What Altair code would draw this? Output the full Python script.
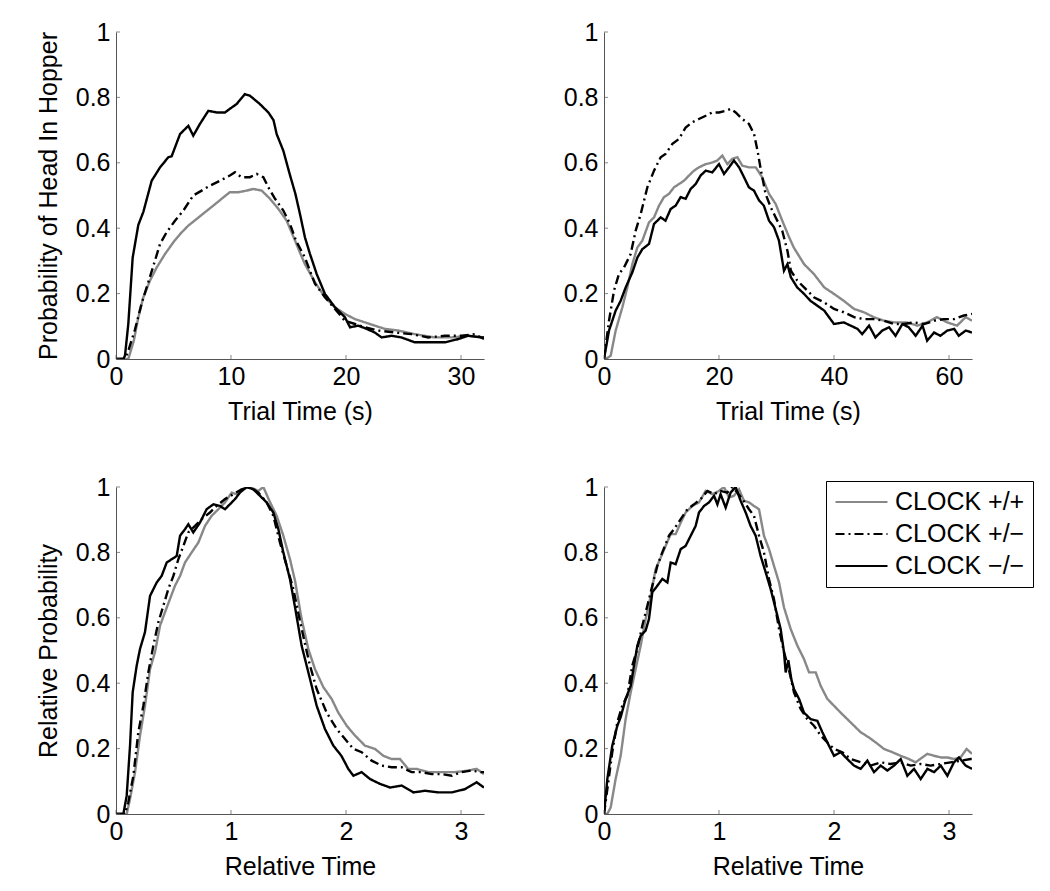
import altair as alt
import pandas as pd

FONT = "Liberation Sans"
AXIS_COLOR = "#555555"

GENOTYPES = ["CLOCK +/+", "CLOCK +/\u2212", "CLOCK \u2212/\u2212"]
LINE_COLORS = ["#888888", "#000000", "#000000"]
LINE_DASHES = [[1, 0], [9, 4, 2, 4], [1, 0]]

Y_TICKS = [0, 0.2, 0.4, 0.6, 0.8, 1]

# ---------------- Panel A: Trial time, short schedule ----------------
A_X_TICKS = [0, 10, 20, 30]
A_WT_X = [0, 1.07, 1.55, 1.94, 2.38, 2.96, 3.54, 4.26, 4.99, 5.57, 6.29, 7.01, 7.74, 8.46, 9.19, 9.9,
          10.64, 11.36, 11.94, 12.67, 13.39, 14.12, 14.84, 15.57, 16.0, 16.43, 17.3, 18.17, 19.04, 19.9,
          20.78, 21.65, 22.5, 23.39, 24.55, 25.99, 27.7, 29.2, 30.6, 32]
A_WT_Y = [0, 0, 0.056, 0.127, 0.189, 0.24, 0.28, 0.321, 0.357, 0.382, 0.408, 0.428, 0.449, 0.469, 0.49, 0.51,
          0.51, 0.515, 0.52, 0.515, 0.49, 0.459, 0.423, 0.362, 0.325, 0.29, 0.235, 0.189, 0.158, 0.138,
          0.122, 0.112, 0.102, 0.092, 0.087, 0.076, 0.066, 0.066, 0.071, 0.066]
A_HET_X = [0, 0.8, 1.07, 1.65, 2.23, 2.81, 3.39, 3.83, 4.41, 5.13, 5.86, 6.72, 7.45, 8.17, 9.04, 9.9,
           10.35, 10.9, 11.65, 12.23, 12.81, 13.25, 13.83, 14.55, 15.13, 15.65, 16.43, 17.3, 18.17, 19.04,
           19.9, 20.78, 21.65, 22.8, 24.26, 25.7, 27.16, 28.6, 30.06, 31.2, 32]
A_HET_Y = [0, 0, 0.025, 0.09, 0.17, 0.235, 0.301, 0.352, 0.388, 0.423, 0.454, 0.5, 0.515, 0.53, 0.545, 0.561,
           0.571, 0.556, 0.556, 0.566, 0.556, 0.525, 0.49, 0.454, 0.413, 0.362, 0.31, 0.23, 0.189, 0.153,
           0.117, 0.107, 0.097, 0.087, 0.081, 0.076, 0.066, 0.071, 0.071, 0.076, 0.061]
A_MUT_X = [0, 0.64, 0.78, 1.07, 1.45, 1.94, 2.38, 3.1, 3.83, 4.55, 4.84, 5.57, 6.29, 6.72, 7.3, 8.03, 8.75,
           9.48, 9.9, 10.5, 11.2, 11.65, 12.5, 13.25, 13.7, 13.97, 14.55, 15.1, 15.6, 16.0, 16.43, 16.87,
           17.45, 18.17, 19.04, 19.9, 20.35, 21.07, 21.8, 22.5, 23.1, 23.97, 24.8, 25.99, 27.16, 28.6, 29.77,
           30.6, 31.8, 32]
A_MUT_Y = [0, 0, 0.01, 0.107, 0.31, 0.41, 0.45, 0.545, 0.586, 0.617, 0.62, 0.688, 0.713, 0.683, 0.719, 0.759,
           0.754, 0.754, 0.765, 0.78, 0.81, 0.805, 0.78, 0.754, 0.73, 0.688, 0.637, 0.566, 0.505, 0.443, 0.372,
           0.321, 0.26, 0.199, 0.158, 0.128, 0.097, 0.102, 0.092, 0.081, 0.066, 0.071, 0.066, 0.051, 0.051,
           0.051, 0.061, 0.071, 0.066, 0.066]

# ---------------- Panel B: Trial time, long schedule ----------------
B_X_TICKS = [0, 20, 40, 60]
B_WT_X = [0, 0.29, 1.16, 2.03, 3.19, 4.06, 4.93, 5.8, 6.67, 7.83, 8.7, 9.57, 10.43, 11.3, 12.17, 13.04, 13.9,
          14.78, 15.65, 16.5, 17.7, 18.84, 19.7, 20.58, 21.45, 22.3, 23.2, 24.06, 25.2, 26.4, 27.5, 28.7,
          29.86, 31.0, 32.2, 33.0, 34.8, 36.5, 38.3, 40.0, 41.7, 43.5, 45.2, 46.9, 48.7, 50.4, 52.7, 54.5,
          56.2, 57.9, 59.7, 61.4, 62.9, 64]
B_WT_Y = [0, 0, 0.01, 0.087, 0.158, 0.219, 0.29, 0.341, 0.362, 0.418, 0.433, 0.469, 0.495, 0.505, 0.525, 0.535,
          0.545, 0.561, 0.576, 0.586, 0.596, 0.601, 0.607, 0.622, 0.596, 0.612, 0.617, 0.591, 0.586, 0.586,
          0.556, 0.505, 0.474, 0.423, 0.372, 0.341, 0.29, 0.26, 0.219, 0.199, 0.178, 0.153, 0.143, 0.128,
          0.117, 0.112, 0.112, 0.102, 0.112, 0.128, 0.112, 0.102, 0.128, 0.117]
B_HET_X = [0, 0.87, 1.74, 2.6, 3.48, 4.64, 5.5, 6.38, 7.54, 8.7, 9.86, 10.7, 11.9, 13.04, 14.2, 15.36, 16.5,
           17.7, 18.84, 20.0, 21.16, 22.0, 22.9, 24.06, 25.2, 26.1, 26.7, 27.3, 28.1, 29.0, 29.86, 31.0, 31.9,
           32.5, 33.6, 34.8, 36.5, 38.3, 40.0, 41.7, 43.5, 45.2, 46.9, 48.7, 50.4, 52.2, 53.9, 55.7, 57.4,
           59.1, 60.9, 62.6, 64]
B_HET_Y = [0, 0.117, 0.209, 0.26, 0.28, 0.321, 0.392, 0.443, 0.525, 0.576, 0.617, 0.627, 0.658, 0.673, 0.708,
           0.724, 0.734, 0.744, 0.754, 0.754, 0.759, 0.765, 0.754, 0.734, 0.719, 0.688, 0.637, 0.576, 0.505,
           0.464, 0.433, 0.392, 0.331, 0.27, 0.24, 0.219, 0.189, 0.173, 0.153, 0.143, 0.128, 0.122, 0.122,
           0.117, 0.107, 0.107, 0.112, 0.107, 0.117, 0.122, 0.122, 0.133, 0.138]
B_MUT_X = [0, 0.87, 2.03, 2.9, 3.77, 4.93, 5.8, 6.67, 7.83, 8.7, 9.86, 10.7, 11.6, 12.46, 13.33, 14.2, 15.07,
           15.94, 16.8, 17.7, 18.84, 20.0, 20.87, 21.74, 22.6, 23.5, 24.35, 25.2, 26.08, 26.96, 27.8, 28.7,
           29.57, 30.43, 31.3, 31.9, 32.5, 33.6, 34.8, 35.9, 37.1, 38.3, 40.0, 41.7, 42.9, 44.1, 44.9, 46.1,
           47.2, 48.4, 49.57, 50.7, 51.9, 53.0, 54.2, 55.4, 56.2, 57.4, 58.5, 59.7, 60.9, 61.7, 62.9, 64]
B_MUT_Y = [0, 0.087, 0.148, 0.178, 0.219, 0.265, 0.31, 0.336, 0.352, 0.413, 0.433, 0.423, 0.459, 0.469, 0.495,
           0.49, 0.52, 0.535, 0.561, 0.576, 0.571, 0.596, 0.566, 0.586, 0.607, 0.586, 0.556, 0.525, 0.515,
           0.485, 0.469, 0.423, 0.403, 0.362, 0.27, 0.29, 0.25, 0.219, 0.199, 0.178, 0.163, 0.148, 0.107,
           0.112, 0.102, 0.092, 0.076, 0.102, 0.066, 0.087, 0.097, 0.071, 0.107, 0.097, 0.071, 0.102, 0.056,
           0.081, 0.071, 0.087, 0.092, 0.071, 0.087, 0.081]

# ---------------- Panel C: Relative time, short schedule ----------------
C_X_TICKS = [0, 1, 2, 3]
C_WT_X = [0, 0.093, 0.122, 0.165, 0.209, 0.252, 0.296, 0.339, 0.383, 0.426, 0.47, 0.513, 0.557, 0.6, 0.658,
          0.716, 0.774, 0.832, 0.89, 0.948, 1.006, 1.049, 1.093, 1.165, 1.238, 1.281, 1.34, 1.397, 1.455,
          1.513, 1.557, 1.614, 1.672, 1.73, 1.803, 1.875, 1.933, 2.006, 2.078, 2.165, 2.252, 2.325, 2.397,
          2.47, 2.54, 2.614, 2.716, 2.832, 2.948, 3.064, 3.136, 3.2]
C_WT_Y = [0, 0, 0.046, 0.127, 0.24, 0.331, 0.443, 0.495, 0.576, 0.617, 0.658, 0.698, 0.728, 0.769, 0.8, 0.83,
          0.881, 0.912, 0.932, 0.953, 0.983, 0.978, 0.993, 1.0, 0.988, 1.0, 0.953, 0.912, 0.851, 0.779, 0.713,
          0.596, 0.505, 0.443, 0.388, 0.352, 0.31, 0.27, 0.24, 0.209, 0.199, 0.178, 0.168, 0.168, 0.138,
          0.138, 0.128, 0.128, 0.128, 0.133, 0.138, 0.122]
C_HET_X = [0, 0.078, 0.107, 0.151, 0.194, 0.238, 0.281, 0.325, 0.368, 0.412, 0.455, 0.499, 0.542, 0.586,
           0.629, 0.687, 0.745, 0.817, 0.875, 0.948, 1.02, 1.093, 1.165, 1.238, 1.31, 1.368, 1.426, 1.484,
           1.542, 1.6, 1.65, 1.687, 1.745, 1.832, 1.919, 1.99, 2.064, 2.136, 2.223, 2.31, 2.397, 2.484, 2.57,
           2.658, 2.745, 2.832, 2.92, 3.006, 3.09, 3.17, 3.2]
C_HET_Y = [0, 0, 0.036, 0.117, 0.25, 0.331, 0.433, 0.515, 0.586, 0.637, 0.688, 0.728, 0.779, 0.82, 0.861,
           0.881, 0.902, 0.922, 0.942, 0.963, 0.978, 0.993, 1.0, 0.983, 0.953, 0.912, 0.83, 0.759, 0.688, 0.59,
           0.51, 0.454, 0.382, 0.31, 0.26, 0.23, 0.199, 0.189, 0.163, 0.148, 0.143, 0.143, 0.128, 0.128, 0.122,
           0.122, 0.117, 0.128, 0.133, 0.128, 0.128]
C_MUT_X = [0, 0.064, 0.093, 0.122, 0.145, 0.18, 0.209, 0.252, 0.296, 0.354, 0.397, 0.441, 0.484, 0.528, 0.557,
           0.6, 0.629, 0.672, 0.73, 0.788, 0.846, 0.904, 0.948, 0.99, 1.035, 1.078, 1.136, 1.194, 1.252, 1.31,
           1.368, 1.412, 1.455, 1.513, 1.557, 1.614, 1.687, 1.745, 1.817, 1.89, 1.96, 2.02, 2.064, 2.136, 2.209,
           2.296, 2.383, 2.484, 2.586, 2.687, 2.8, 2.92, 3.035, 3.136, 3.2]
C_MUT_Y = [0, 0, 0.056, 0.209, 0.372, 0.454, 0.505, 0.556, 0.667, 0.708, 0.728, 0.769, 0.779, 0.789, 0.851,
           0.871, 0.886, 0.861, 0.891, 0.932, 0.947, 0.942, 0.932, 0.947, 0.963, 0.983, 1.0, 0.993, 0.973,
           0.953, 0.922, 0.871, 0.8, 0.718, 0.632, 0.515, 0.413, 0.331, 0.26, 0.209, 0.178, 0.138, 0.117, 0.128,
           0.107, 0.092, 0.081, 0.087, 0.066, 0.071, 0.066, 0.066, 0.076, 0.097, 0.081]

# ---------------- Panel D: Relative time, long schedule ----------------
D_X_TICKS = [0, 1, 2, 3]
D_WT_X = [0, 0.029, 0.058, 0.101, 0.145, 0.188, 0.232, 0.275, 0.319, 0.362, 0.406, 0.449, 0.493, 0.536, 0.58,
          0.623, 0.667, 0.71, 0.768, 0.826, 0.884, 0.942, 1.0, 1.043, 1.087, 1.13, 1.174, 1.217, 1.261, 1.304,
          1.348, 1.391, 1.435, 1.478, 1.522, 1.565, 1.623, 1.681, 1.739, 1.783, 1.841, 1.884, 1.942, 2.0,
          2.058, 2.116, 2.174, 2.232, 2.304, 2.362, 2.435, 2.507, 2.58, 2.652, 2.71, 2.768, 2.812, 2.87, 2.928,
          2.986, 3.043, 3.101, 3.153, 3.2]
D_WT_Y = [0, 0, 0.02, 0.107, 0.178, 0.29, 0.372, 0.443, 0.515, 0.596, 0.667, 0.749, 0.784, 0.82, 0.856, 0.856,
          0.891, 0.922, 0.942, 0.953, 0.988, 0.978, 0.988, 1.0, 0.968, 0.973, 0.993, 0.958, 0.953, 0.942, 0.932,
          0.851, 0.81, 0.759, 0.708, 0.632, 0.566, 0.515, 0.474, 0.433, 0.433, 0.392, 0.352, 0.331, 0.31, 0.29,
          0.27, 0.25, 0.234, 0.219, 0.199, 0.189, 0.178, 0.168, 0.158, 0.173, 0.184, 0.178, 0.173, 0.173,
          0.168, 0.173, 0.199, 0.184]
D_HET_X = [0, 0.029, 0.072, 0.116, 0.159, 0.203, 0.246, 0.29, 0.333, 0.377, 0.42, 0.464, 0.507, 0.565, 0.609,
           0.667, 0.725, 0.783, 0.841, 0.899, 0.957, 1.014, 1.072, 1.116, 1.159, 1.203, 1.261, 1.304, 1.348,
           1.391, 1.435, 1.478, 1.522, 1.565, 1.609, 1.652, 1.71, 1.768, 1.826, 1.884, 1.942, 2.0, 2.072, 2.145,
           2.232, 2.319, 2.406, 2.493, 2.58, 2.667, 2.754, 2.841, 2.928, 3.014, 3.101, 3.188, 3.2]
D_HET_Y = [0, 0.076, 0.189, 0.281, 0.331, 0.362, 0.454, 0.505, 0.576, 0.637, 0.698, 0.759, 0.8, 0.851, 0.871,
           0.902, 0.932, 0.947, 0.963, 0.988, 0.978, 0.988, 0.983, 1.0, 0.983, 0.963, 0.932, 0.912, 0.851, 0.8,
           0.718, 0.657, 0.566, 0.495, 0.44, 0.372, 0.321, 0.29, 0.27, 0.24, 0.219, 0.199, 0.189, 0.168, 0.158,
           0.148, 0.158, 0.153, 0.158, 0.148, 0.153, 0.148, 0.153, 0.158, 0.163, 0.168, 0.168]
D_MUT_X = [0, 0.029, 0.072, 0.116, 0.145, 0.188, 0.232, 0.261, 0.29, 0.319, 0.362, 0.391, 0.42, 0.464, 0.507,
           0.551, 0.58, 0.623, 0.667, 0.71, 0.754, 0.797, 0.826, 0.87, 0.913, 0.957, 0.986, 1.014, 1.058, 1.101,
           1.145, 1.188, 1.232, 1.275, 1.319, 1.362, 1.406, 1.449, 1.493, 1.536, 1.565, 1.58, 1.603, 1.63, 1.652,
           1.696, 1.739, 1.797, 1.855, 1.899, 1.942, 2.0, 2.058, 2.116, 2.174, 2.232, 2.29, 2.348, 2.406, 2.464,
           2.522, 2.58, 2.638, 2.696, 2.754, 2.812, 2.87, 2.928, 2.986, 3.043, 3.087, 3.145, 3.2]
D_MUT_Y = [0, 0.107, 0.209, 0.27, 0.296, 0.352, 0.392, 0.454, 0.515, 0.545, 0.561, 0.596, 0.678, 0.698, 0.719,
           0.708, 0.769, 0.764, 0.81, 0.82, 0.851, 0.881, 0.922, 0.942, 0.953, 0.973, 0.947, 0.978, 0.937, 0.983,
           1.0, 0.958, 0.922, 0.881, 0.851, 0.789, 0.739, 0.688, 0.627, 0.566, 0.495, 0.433, 0.47, 0.41, 0.382,
           0.352, 0.31, 0.29, 0.285, 0.25, 0.219, 0.178, 0.189, 0.168, 0.148, 0.138, 0.163, 0.128, 0.148, 0.133,
           0.148, 0.168, 0.117, 0.138, 0.107, 0.138, 0.128, 0.148, 0.117, 0.158, 0.173, 0.148, 0.138]

TITLE_A_Y = "Probability of Head In Hopper"
TITLE_C_Y = "Relative Probability"
TITLE_TOP_X = "Trial Time (s)"
TITLE_BOTTOM_X = "Relative Time"

PANEL_W = 368
PANEL_H = 327
FS = 25


def make_df(series):
    rows = []
    for g, xs, ys in series:
        for i, (x, y) in enumerate(zip(xs, ys)):
            rows.append({"genotype": g, "x": x, "y": y, "idx": i})
    return pd.DataFrame(rows)


def panel(series, xmax, xticks, xtitle, ytitle, show_legend, xtitle_pad):
    df = make_df(series)
    xscale = alt.Scale(domain=[0, xmax], nice=False, zero=False)
    yscale = alt.Scale(domain=[0, 1], nice=False)
    xaxis = alt.Axis(values=xticks, title=xtitle, titlePadding=xtitle_pad)
    if ytitle:
        yaxis = alt.Axis(values=Y_TICKS, title=ytitle, format="~g")
    else:
        yaxis = alt.Axis(values=Y_TICKS, title=None, format="~g")
    if show_legend:
        leg = alt.Legend(
            orient="none", legendX=222, legendY=-6, title=None,
            symbolType="stroke", symbolSize=2704, symbolStrokeWidth=2.2,
            labelFont=FONT, labelFontSize=FS, labelColor="#000000", labelOffset=6,
            clipHeight=26, rowPadding=6, padding=8,
            strokeColor="#000000", fillColor="#ffffff", cornerRadius=0,
        )
        color = alt.Color("genotype:N", scale=alt.Scale(domain=GENOTYPES, range=LINE_COLORS), legend=leg)
        dash = alt.StrokeDash("genotype:N", scale=alt.Scale(domain=GENOTYPES, range=LINE_DASHES), legend=leg)
    else:
        color = alt.Color("genotype:N", scale=alt.Scale(domain=GENOTYPES, range=LINE_COLORS), legend=None)
        dash = alt.StrokeDash("genotype:N", scale=alt.Scale(domain=GENOTYPES, range=LINE_DASHES), legend=None)

    xenc = alt.X("x:Q", scale=xscale, axis=xaxis)
    yenc = alt.Y("y:Q", scale=yscale, axis=yaxis)

    lines = alt.Chart(df).mark_line(strokeWidth=2.4, clip=True).encode(
        x=xenc, y=yenc, color=color, strokeDash=dash, order=alt.Order("idx:Q"),
    )
    # inward tick marks (MATLAB style), positioned through the scales
    xt_df = pd.DataFrame({"x": xticks, "y": [0] * len(xticks)})
    yt_df = pd.DataFrame({"x": [0] * len(Y_TICKS), "y": Y_TICKS})
    xt = alt.Chart(xt_df).mark_tick(orient="vertical", size=4, thickness=1, color=AXIS_COLOR, yOffset=-2).encode(
        x=xenc, y=yenc,
    )
    yt = alt.Chart(yt_df).mark_tick(orient="horizontal", size=4, thickness=1, color=AXIS_COLOR, xOffset=2).encode(
        x=xenc, y=yenc,
    )
    return alt.layer(lines, xt, yt).properties(width=PANEL_W, height=PANEL_H)


pa = panel([(GENOTYPES[0], A_WT_X, A_WT_Y), (GENOTYPES[1], A_HET_X, A_HET_Y), (GENOTYPES[2], A_MUT_X, A_MUT_Y)],
           32, A_X_TICKS, TITLE_TOP_X, TITLE_A_Y, False, 10)
pb = panel([(GENOTYPES[0], B_WT_X, B_WT_Y), (GENOTYPES[1], B_HET_X, B_HET_Y), (GENOTYPES[2], B_MUT_X, B_MUT_Y)],
           64, B_X_TICKS, TITLE_TOP_X, None, False, 10)
pc = panel([(GENOTYPES[0], C_WT_X, C_WT_Y), (GENOTYPES[1], C_HET_X, C_HET_Y), (GENOTYPES[2], C_MUT_X, C_MUT_Y)],
           3.2, C_X_TICKS, TITLE_BOTTOM_X, TITLE_C_Y, False, 10)
pd_ = panel([(GENOTYPES[0], D_WT_X, D_WT_Y), (GENOTYPES[1], D_HET_X, D_HET_Y), (GENOTYPES[2], D_MUT_X, D_MUT_Y)],
            3.2, D_X_TICKS, TITLE_BOTTOM_X, None, True, 10)

top = alt.hconcat(pa, pb, spacing=79).resolve_scale(color="independent", strokeDash="independent")
bottom = alt.hconcat(pc, pd_, spacing=79).resolve_scale(color="independent", strokeDash="independent")

chart = (
    alt.vconcat(top, bottom, spacing=51)
    .resolve_scale(color="independent", strokeDash="independent")
    .properties(padding={"left": 28, "top": 12, "right": 5, "bottom": 5})
    .configure_view(stroke=None)
    .configure_axis(
        domainColor=AXIS_COLOR, domainWidth=1, ticks=False, grid=False,
        labelFont=FONT, labelFontSize=FS, labelColor="#000000", labelPadding=5,
        labelFlush=False, labelOverlap=False,
        titleFont=FONT, titleFontSize=FS, titleFontWeight="normal", titleColor="#000000",
    )
    .configure_axisY(labelPadding=6, titlePadding=14)
)

chart.save("out.html", embed_options={"renderer": "svg", "actions": False})
